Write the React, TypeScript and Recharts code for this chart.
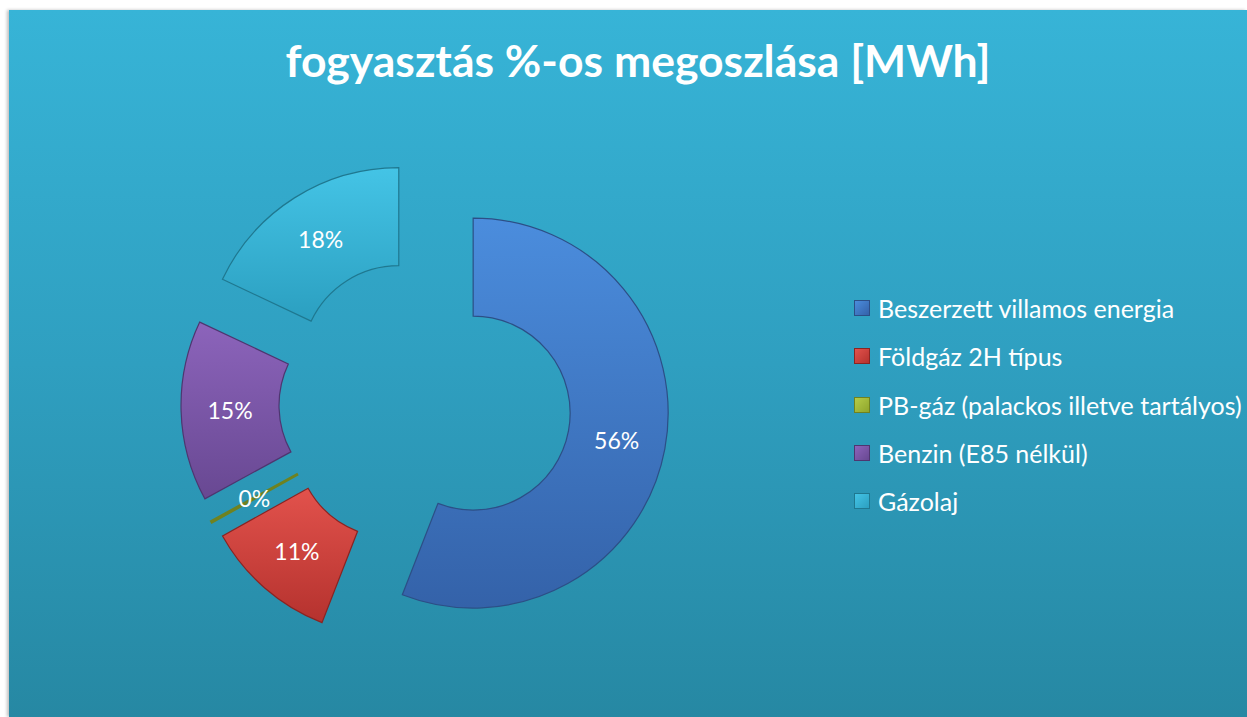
import React from 'react'
import { PieChart, Pie, Cell } from 'recharts'

const categories = [
  'Beszerzett villamos energia',
  'Földgáz 2H típus',
  'PB-gáz (palackos illetve tartályos)',
  'Benzin (E85 nélkül)',
  'Gázolaj',
]
const shares = [56, 11, 0.15, 15, 18]
const title = 'fogyasztás %-os megoszlása [MWh]'

const COLORS = [
  ['#4b8ddd', '#3462a9', '#2c4f86'],
  ['#e2524c', '#b5322e', '#8a2422'],
  ['#b4cc48', '#8fa52c', '#6f8220'],
  ['#8c64bb', '#684892', '#4e3670'],
  ['#44c4e6', '#2b9fc0', '#1f7890'],
]

const data = categories.map((name, i) => ({ name, value: shares[i] }))

const W = 1238
const H = 707
const CX = 411
const CY = 389
const OUTER = 195
const INNER = 97
const EXPLODE = 49
const RAD = Math.PI / 180

const total = shares.reduce((a, b) => a + b, 0)
const offsets = shares.map((v, i) => {
  const before = shares.slice(0, i).reduce((a, b) => a + b, 0)
  const theta = ((before + v / 2) / total) * 360 * RAD
  return { dx: EXPLODE * Math.sin(theta), dy: -EXPLODE * Math.cos(theta) }
})

const makeLabel = (k: number) => (props: any) => {
  if (props.index !== k) return null
  const { cx, cy, midAngle, innerRadius, outerRadius, percent } = props
  const r = (innerRadius + outerRadius) / 2
  const x = cx + r * Math.cos(-midAngle * RAD)
  const y = cy + r * Math.sin(-midAngle * RAD)
  return (
    <text x={x} y={y} fill="#fff" fontSize={23} fontFamily="Lato" textAnchor="middle" dominantBaseline="central">
      {`${Math.round(percent * 100)}%`}
    </text>
  )
}

export default function App() {
  return (
    <div
      style={{
        position: 'absolute',
        left: 9,
        top: 10,
        width: W,
        height: H,
        background: 'linear-gradient(180deg, #37b4d7 0%, #2f9fc0 50%, #2688a3 100%)',
        boxShadow: '-2px 0 3px rgba(0,0,0,0.25)',
        fontFamily: 'Lato',
        overflow: 'hidden',
      }}
    >
      <div
        style={{
          position: 'absolute',
          top: 20,
          left: 10,
          width: W,
          textAlign: 'center',
          color: '#fff',
          fontWeight: 700,
          fontSize: 44.5,
          lineHeight: '60px',
        }}
      >
        {title}
      </div>
      <PieChart width={W} height={H}>
        <defs>
          {COLORS.map((c, i) => (
            <linearGradient key={i} id={`g${i}`} x1="0" y1="0" x2="0" y2="1">
              <stop offset="0%" stopColor={c[0]} />
              <stop offset="100%" stopColor={c[1]} />
            </linearGradient>
          ))}
        </defs>
        {data.map((_, k) => (
          <Pie
            key={k}
            data={data}
            dataKey="value"
            nameKey="name"
            cx={CX + offsets[k].dx}
            cy={CY + offsets[k].dy}
            innerRadius={INNER}
            outerRadius={OUTER}
            startAngle={90}
            endAngle={-270}
            stroke="none"
            label={makeLabel(k)}
            labelLine={false}
            isAnimationActive={false}
          >
            {data.map((__, i) => (
              <Cell
                key={i}
                fill={i === k ? `url(#g${i})` : 'none'}
                stroke={i === k ? COLORS[i][2] : 'none'}
                strokeWidth={i === k ? (i === 2 ? 2 : 1.2) : 0}
              />
            ))}
          </Pie>
        ))}
      </PieChart>
      <div style={{ position: 'absolute', left: 845, top: 274 }}>
        {categories.map((name, i) => (
          <div key={i} style={{ display: 'flex', alignItems: 'center', height: 48.3, color: '#fff', fontSize: 25 }}>
            <span
              style={{
                display: 'inline-block',
                width: 14,
                height: 14,
                marginRight: 8,
                background: `linear-gradient(135deg, ${COLORS[i][0]} 0%, ${COLORS[i][1]} 100%)`,
                border: `1px solid ${COLORS[i][2]}`,
              }}
            />
            <span>{name}</span>
          </div>
        ))}
      </div>
    </div>
  )
}
